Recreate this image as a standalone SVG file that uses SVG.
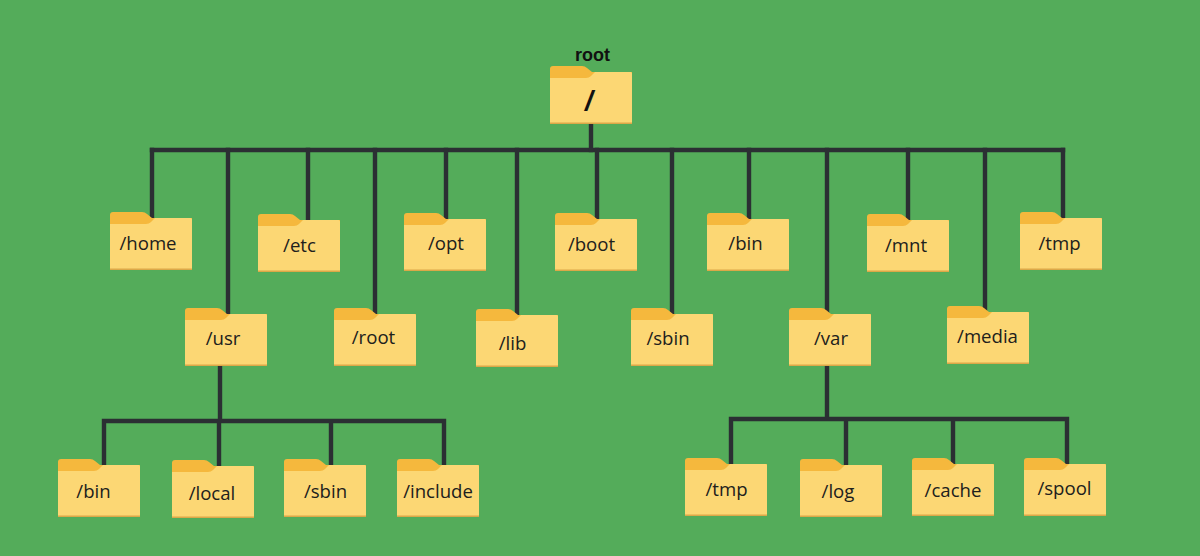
<svg xmlns="http://www.w3.org/2000/svg" width="1200" height="556" viewBox="0 0 1200 556">
<style>
.wire{fill:none;stroke:#2b2f33;stroke-width:4.400;stroke-linecap:square}
.label{font-family:"Open Sans","Noto Sans","Liberation Sans",sans-serif;font-size:18.600px;fill:#20201c;text-anchor:middle}
.big{font-family:"Liberation Sans",sans-serif;font-weight:700;fill:#111;text-anchor:middle}
</style>
<defs>
<g id="folder">
<path d="M0 3Q0 0 3 0H32Q35 0 37 2L42 6H82V12H0Z" fill="#f5b83d"/>
<path d="M0 12H36Q39 12 41 10L45 6H80.500Q82 6 82 7.500V57.500H0Z" fill="#fcd774"/>
<rect x="0" y="56.500" width="82" height="1.500" fill="#dca848"/>
</g>
</defs>
<rect width="1200" height="556" fill="#54ac5a"/>
<g id="connectors">
<path class="wire" d="M152 150H1063"/>
<path class="wire" d="M591 124V150"/>
<path class="wire" d="M152 150V216M228 150V313M308 150V219M375 150V313M446 150V217M517 150V314M597 150V217M672 150V313M749 150V217M827 150V313M908 150V218M985 150V311M1063 150V216"/>
<path class="wire" d="M220 365V421M104 421H444M104 421V463M219 421V464M331 421V463M444 421V463"/>
<path class="wire" d="M827 365V419M731 419H1067M731 419V462M846 419V463M953 419V462M1067 419V462"/>
</g>
<g id="node-root"><use href="#folder" x="550" y="66"/><text class="big" x="592.500" y="61" font-size="18">root</text><text class="big" x="589" y="110" font-size="28" font-style="italic">/</text></g>
<g id="node-home"><use href="#folder" x="110" y="212"/><text class="label" x="148" y="250">/home</text></g>
<g id="node-etc"><use href="#folder" x="258" y="214"/><text class="label" x="299.500" y="252">/etc</text></g>
<g id="node-opt"><use href="#folder" x="404" y="213"/><text class="label" x="446" y="250">/opt</text></g>
<g id="node-boot"><use href="#folder" x="555" y="213"/><text class="label" x="591.500" y="251">/boot</text></g>
<g id="node-bin"><use href="#folder" x="707" y="213"/><text class="label" x="745.500" y="250">/bin</text></g>
<g id="node-mnt"><use href="#folder" x="867" y="214"/><text class="label" x="906" y="252">/mnt</text></g>
<g id="node-tmp"><use href="#folder" x="1020" y="212"/><text class="label" x="1059.500" y="250">/tmp</text></g>
<g id="node-usr"><use href="#folder" x="185" y="308"/><text class="label" x="223" y="345">/usr</text></g>
<g id="node-rootdir"><use href="#folder" x="334" y="308"/><text class="label" x="373.500" y="344">/root</text></g>
<g id="node-lib"><use href="#folder" x="476" y="309"/><text class="label" x="512.500" y="350">/lib</text></g>
<g id="node-sbin"><use href="#folder" x="631" y="308"/><text class="label" x="668" y="345">/sbin</text></g>
<g id="node-var"><use href="#folder" x="789" y="308"/><text class="label" x="831" y="345">/var</text></g>
<g id="node-media"><use href="#folder" x="947" y="306"/><text class="label" x="987.500" y="343">/media</text></g>
<g id="node-usr-bin"><use href="#folder" x="58" y="459"/><text class="label" x="93.500" y="498">/bin</text></g>
<g id="node-usr-local"><use href="#folder" x="172" y="460"/><text class="label" x="212" y="500">/local</text></g>
<g id="node-usr-sbin"><use href="#folder" x="284" y="459"/><text class="label" x="325.500" y="498">/sbin</text></g>
<g id="node-usr-include"><use href="#folder" x="397" y="459"/><text class="label" x="438" y="498">/include</text></g>
<g id="node-var-tmp"><use href="#folder" x="685" y="458"/><text class="label" x="726.500" y="496">/tmp</text></g>
<g id="node-var-log"><use href="#folder" x="800" y="459"/><text class="label" x="838" y="498">/log</text></g>
<g id="node-var-cache"><use href="#folder" x="912" y="458"/><text class="label" x="953" y="497">/cache</text></g>
<g id="node-var-spool"><use href="#folder" x="1024" y="458"/><text class="label" x="1064.500" y="495">/spool</text></g>
</svg>
